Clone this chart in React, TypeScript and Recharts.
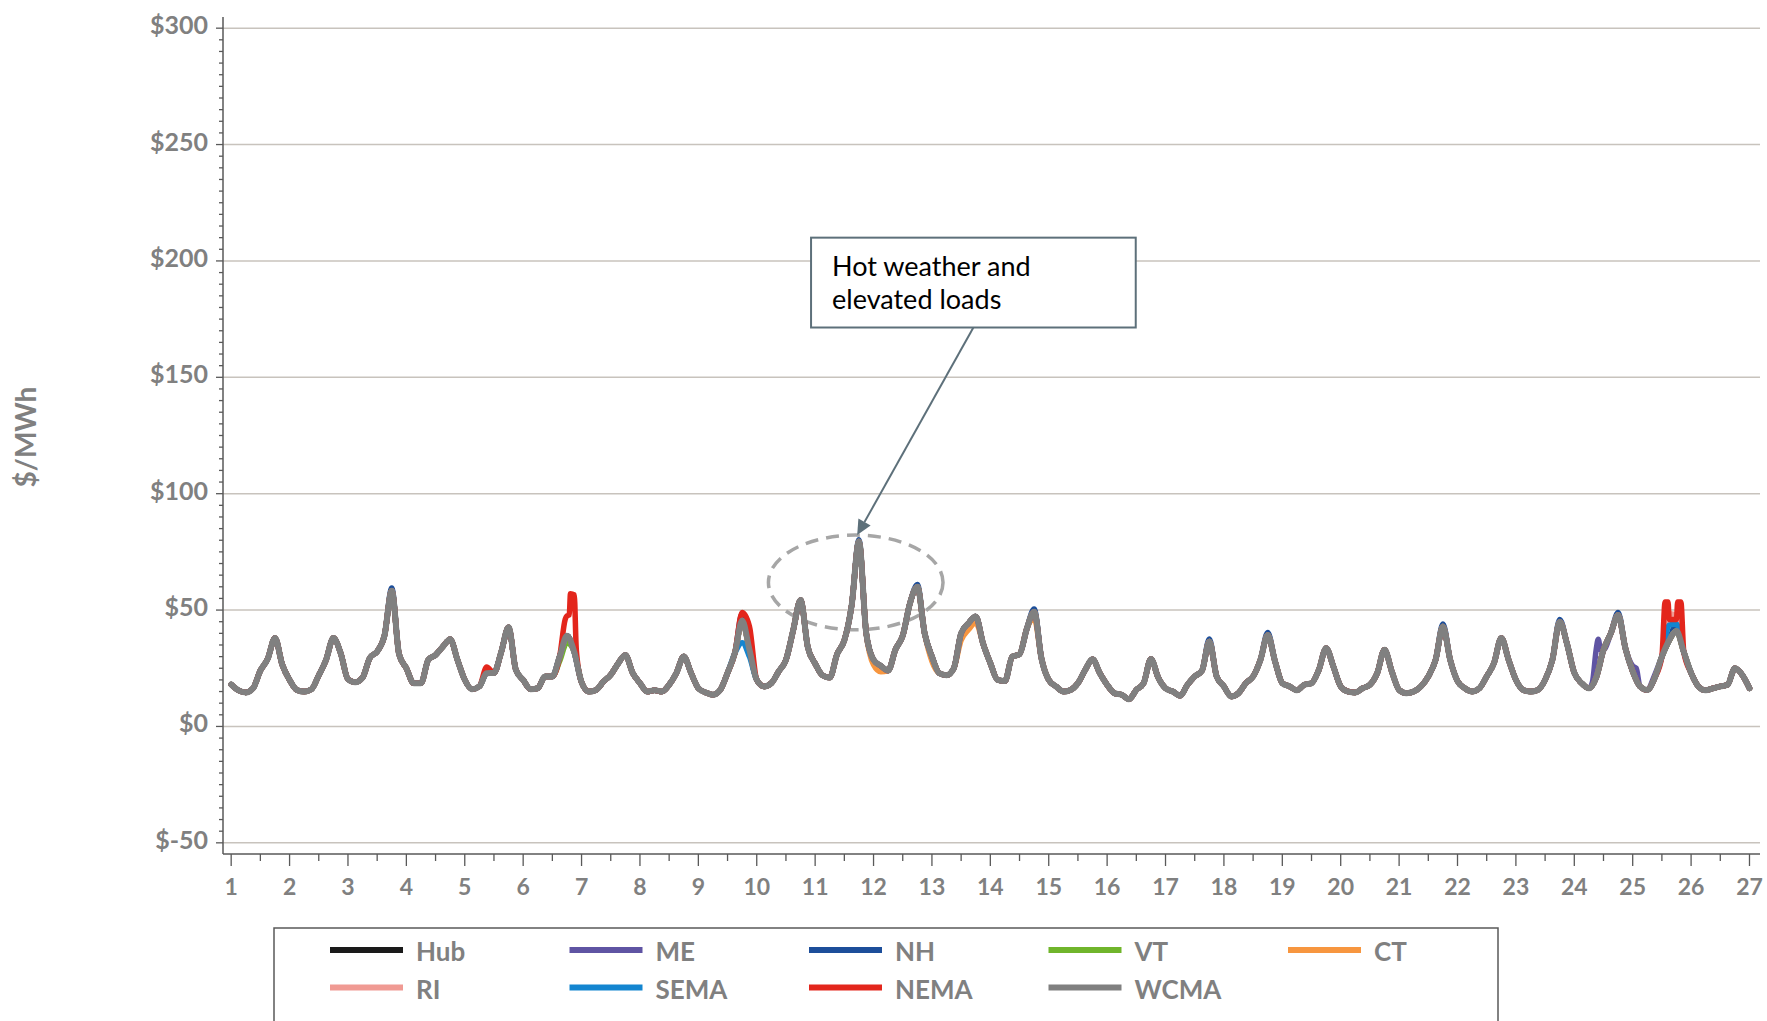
import React from "react";
import { CartesianGrid, Line, LineChart, ReferenceArea, ReferenceLine, XAxis, YAxis } from "recharts";

const W = 1767;
const H = 1021;
const FONT = "Lato, 'Liberation Sans', Arial, sans-serif";
const LABEL_GREY = "#808080";
const FRAME = "#595959";

const FIRST_DAY = 1;
const STEPS_PER_DAY = 8; // 3-hour samples

// WCMA real-time price, $/MWh, every 3 hours from day 1 to day 27
const WCMA = [
  18, 15.5, 14.6, 16.4, 24, 29, 38, 26.5,
  20, 15.7, 15, 16, 22, 28.6, 38, 31.5,
  20.3, 19, 21, 29.5, 32.2, 39, 58.3, 31,
  25, 18.6, 18.6, 28.6, 30.7, 34.3, 37.5, 28.6,
  20, 16, 17.2, 22.9, 23, 32, 42.6, 24.3,
  20, 16, 16.4, 21.5, 21.5, 30, 39, 32,
  19, 15, 15.7, 19.3, 22.2, 27, 30.7, 23,
  18.6, 15, 15.5, 15, 17.9, 23, 30, 23,
  16.4, 14.6, 13.6, 15.7, 23, 31.5, 45.5, 33,
  20, 17.2, 18.6, 23.6, 28.6, 41.4, 54.3, 34,
  27, 22, 21, 31, 37, 52, 79.5, 40,
  28.6, 26, 24, 33, 39, 53, 60, 40,
  30, 22.9, 22, 25, 40, 44.3, 47.2, 35.7,
  27.2, 20, 19.5, 30, 31, 42, 49.3, 29.3,
  20, 17.2, 15, 15.7, 18.6, 24.3, 28.9, 22.9,
  17.9, 14.3, 13.6, 11.7, 15.7, 18.6, 29, 21,
  16.4, 15, 13.2, 17.9, 21.5, 24, 36.5, 21.5,
  17.2, 12.9, 14.3, 18.6, 21.5, 28.6, 39.3, 28,
  18.6, 17.2, 15.5, 17.9, 18.6, 24.3, 33.6, 25.7,
  17.2, 15, 14.6, 16.4, 17.9, 22.9, 33, 23.6,
  15.7, 14.3, 15, 17.2, 21.5, 28.6, 42.9, 28.6,
  19.5, 16.4, 15, 16.4, 21.5, 27.2, 38, 28.6,
  20, 15.7, 15, 15.7, 20, 28.6, 45, 35.5,
  23, 18.6, 16.4, 21, 32.9, 40, 47.9, 33.6,
  23.6, 17.2, 15.7, 20.7, 30, 37, 41, 32,
  23, 17.2, 15.5, 16.4, 17.2, 17.9, 25, 22.2,
  16.4,
];

// the other zones sit on top of WCMA; listed are the [day, $/MWh] points where they split off
const HUB_DIFF: [number, number][] = [];
const ME_DIFF: [number, number][] = [
  [24.31, 19], [24.375, 33], [24.41, 37.5], [24.45, 33], [25, 26], [25.06, 25], [25.375, 22],
];
const NH_DIFF: [number, number][] = [
  [3.75, 59.5], [9.75, 48.5], [11.75, 80.2], [12.75, 61], [14.75, 50.5], [17.75, 37.6],
  [18.75, 40.4], [21.75, 44], [23.75, 46], [24.75, 49], [25.75, 44.5],
];
const VT_DIFF: [number, number][] = [[6.625, 28], [6.75, 36]];
const CT_DIFF: [number, number][] = [
  [12, 26.5], [12.125, 23.5], [13, 28], [13.5, 37], [13.625, 41.5], [13.75, 44.5], [14.75, 46.5],
];
const RI_DIFF: [number, number][] = [[25.625, 48.5], [25.75, 47.5]];
const SEMA_DIFF: [number, number][] = [[9.75, 36], [9.875, 30], [25.625, 43.5], [25.75, 44]];
const NEMA_DIFF: [number, number][] = [
  [5.375, 25.5], [6.72, 46], [6.75, 47.5], [6.79, 48], [6.81, 57], [6.875, 56.5], [6.91, 33],
  [9.75, 49], [9.875, 43], [25.555, 53.5], [25.605, 53.5], [25.625, 46], [25.75, 46],
  [25.77, 53.5], [25.825, 53.5],
];

const ZONES = [
  { name: "Hub", color: "#1a1a1a", diff: HUB_DIFF },
  { name: "ME", color: "#5f54a3", diff: ME_DIFF },
  { name: "NH", color: "#1c4e9a", diff: NH_DIFF },
  { name: "VT", color: "#70b52b", diff: VT_DIFF },
  { name: "CT", color: "#f7963f", diff: CT_DIFF },
  { name: "RI", color: "#f09a93", diff: RI_DIFF },
  { name: "SEMA", color: "#1385d0", diff: SEMA_DIFF },
  { name: "NEMA", color: "#e3261c", diff: NEMA_DIFF },
  { name: "WCMA", color: "#808080", diff: [] as [number, number][] },
];

const DAY_LABELS = [1, 2, 3, 4, 5, 6, 7, 8, 9, 10, 11, 12, 13, 14, 15, 16, 17, 18, 19, 20, 21, 22, 23, 24, 25, 26, 27];
const PRICE_LABELS = [-50, 0, 50, 100, 150, 200, 250, 300];

const X_TICKS = DAY_LABELS.flatMap((d) => (d < 27 ? [d, d + 0.5] : [d]));
const Y_TICKS: number[] = [];
for (let v = -50; v <= 300; v += 5) Y_TICKS.push(v);

function zoneSeries(diff: [number, number][]) {
  const pts = WCMA.map((v, i) => ({ t: FIRST_DAY + i / STEPS_PER_DAY, v }));
  for (const [t, v] of diff) {
    const i = Math.round((t - FIRST_DAY) * STEPS_PER_DAY);
    if (Math.abs(FIRST_DAY + i / STEPS_PER_DAY - t) < 1e-9) pts[i] = { t, v };
    else pts.push({ t, v });
  }
  return pts.sort((a, b) => a.t - b.t);
}

const XTick = (props: any) => {
  const { x, y, payload } = props;
  const major = Number.isInteger(payload.value);
  return (
    <g>
      <line x1={x} y1={y} x2={x} y2={y + (major ? 12 : 7)} stroke={FRAME} strokeWidth={1.3} />
      {major && (
        <text x={x} y={y + 41} textAnchor="middle" fontFamily={FONT} fontWeight={700} fontSize={23} fill={LABEL_GREY}>
          {payload.value}
        </text>
      )}
    </g>
  );
};

const YTick = (props: any) => {
  const { x, y, payload } = props;
  const major = payload.value % 50 === 0;
  return (
    <g>
      <line x1={x - (major ? 7 : 4)} y1={y} x2={x} y2={y} stroke={FRAME} strokeWidth={1.3} />
      {major && (
        <text x={x - 15} y={y + 6} textAnchor="end" fontFamily={FONT} fontWeight={700} fontSize={25} fill={LABEL_GREY}>
          {`$${payload.value}`}
        </text>
      )}
    </g>
  );
};

const CalloutBox = (p: any) => (
  <g>
    <rect x={p.x} y={p.y} width={p.width} height={p.height} fill="#fff" stroke="#5d707a" strokeWidth={2} />
    <text x={p.x + 21} y={p.y + 38} fontFamily={FONT} fontSize={27} fill="#000">Hot weather and</text>
    <text x={p.x + 21} y={p.y + 71} fontFamily={FONT} fontSize={27} fill="#000">elevated loads</text>
  </g>
);

const Arrow = (p: any) => {
  const { x1, y1, x2, y2 } = p;
  const a = Math.atan2(y2 - y1, x2 - x1);
  const len = 15;
  const half = 7;
  const bx = x2 - len * Math.cos(a);
  const by = y2 - len * Math.sin(a);
  const px = -Math.sin(a) * half;
  const py = Math.cos(a) * half;
  return (
    <g>
      <line x1={x1} y1={y1} x2={bx} y2={by} stroke="#5d707a" strokeWidth={2} />
      <polygon points={`${x2},${y2} ${bx + px},${by + py} ${bx - px},${by - py}`} fill="#5d707a" />
    </g>
  );
};

const DashedEllipse = (p: any) => (
  <ellipse
    cx={p.x + p.width / 2}
    cy={p.y + p.height / 2}
    rx={p.width / 2}
    ry={p.height / 2}
    fill="none"
    stroke="#a6a6a6"
    strokeWidth={3.5}
    strokeDasharray="13 8"
  />
);

export default function App() {
  return (
    <div style={{ position: "absolute", left: 0, top: 0, width: W, height: H, background: "#fff", overflow: "hidden" }}>
      <LineChart width={W} height={H} margin={{ top: 17, right: 7, bottom: 0, left: 0 }}>
        <CartesianGrid vertical={false} horizontalValues={PRICE_LABELS} stroke="#c8c3bd" strokeWidth={1.5} />
        <XAxis
          type="number"
          dataKey="t"
          domain={[0.86, 27.18]}
          allowDataOverflow
          ticks={X_TICKS}
          interval={0}
          tick={<XTick />}
          tickLine={false}
          tickSize={0}
          tickMargin={0}
          height={167}
          axisLine={{ stroke: FRAME, strokeWidth: 1.5 }}
        />
        <XAxis xAxisId="frame" orientation="top" type="number" domain={[0, 1]} height={0} tick={false} tickLine={false} axisLine={{ stroke: FRAME, strokeWidth: 1.5 }} />
        <YAxis
          type="number"
          domain={[-54.8, 304.8]}
          allowDataOverflow
          ticks={Y_TICKS}
          interval={0}
          tick={<YTick />}
          tickLine={false}
          tickSize={0}
          tickMargin={0}
          width={223}
          axisLine={{ stroke: FRAME, strokeWidth: 1.5 }}
        />
        <YAxis yAxisId="frame" orientation="right" type="number" domain={[0, 1]} width={0} tick={false} tickLine={false} axisLine={{ stroke: FRAME, strokeWidth: 1.5 }} />
        {ZONES.map((z) => (
          <Line
            key={z.name}
            data={zoneSeries(z.diff)}
            dataKey="v"
            name={z.name}
            type="monotone"
            stroke={z.color}
            strokeWidth={z.name === "WCMA" ? 6 : 5.5}
            strokeLinejoin="round"
            strokeLinecap="round"
            dot={false}
            activeDot={false}
            isAnimationActive={false}
          />
        ))}
        <ReferenceArea x1={10.2} x2={13.19} y1={41.5} y2={82.2} shape={<DashedEllipse />} />
        <ReferenceArea x1={10.93} x2={16.49} y1={171.4} y2={210} shape={<CalloutBox />} />
        <ReferenceLine segment={[{ x: 13.71, y: 171.4 }, { x: 11.72, y: 82.2 }]} shape={<Arrow />} />
      </LineChart>
      <svg width={W} height={H} style={{ position: "absolute", left: 0, top: 0, pointerEvents: "none" }}>
        <text
          transform="translate(25,437) rotate(-90)"
          textAnchor="middle"
          dominantBaseline="central"
          fontFamily={FONT}
          fontWeight={700}
          fontSize={28}
          fill={LABEL_GREY}
        >
          $/MWh
        </text>
        <rect x={274} y={928} width={1224} height={140} fill="none" stroke={FRAME} strokeWidth={1.5} />
        {ZONES.map((z, i) => {
          const sx = 330 + (i % 5) * 239.5;
          const cy = 950 + Math.floor(i / 5) * 37.5;
          return (
            <g key={z.name}>
              <line x1={sx} y1={cy} x2={sx + 73} y2={cy} stroke={z.color} strokeWidth={6} />
              <text x={sx + 86} y={cy + 11} fontFamily={FONT} fontWeight={700} fontSize={26} fill={LABEL_GREY}>
                {z.name}
              </text>
            </g>
          );
        })}
      </svg>
    </div>
  );
}
